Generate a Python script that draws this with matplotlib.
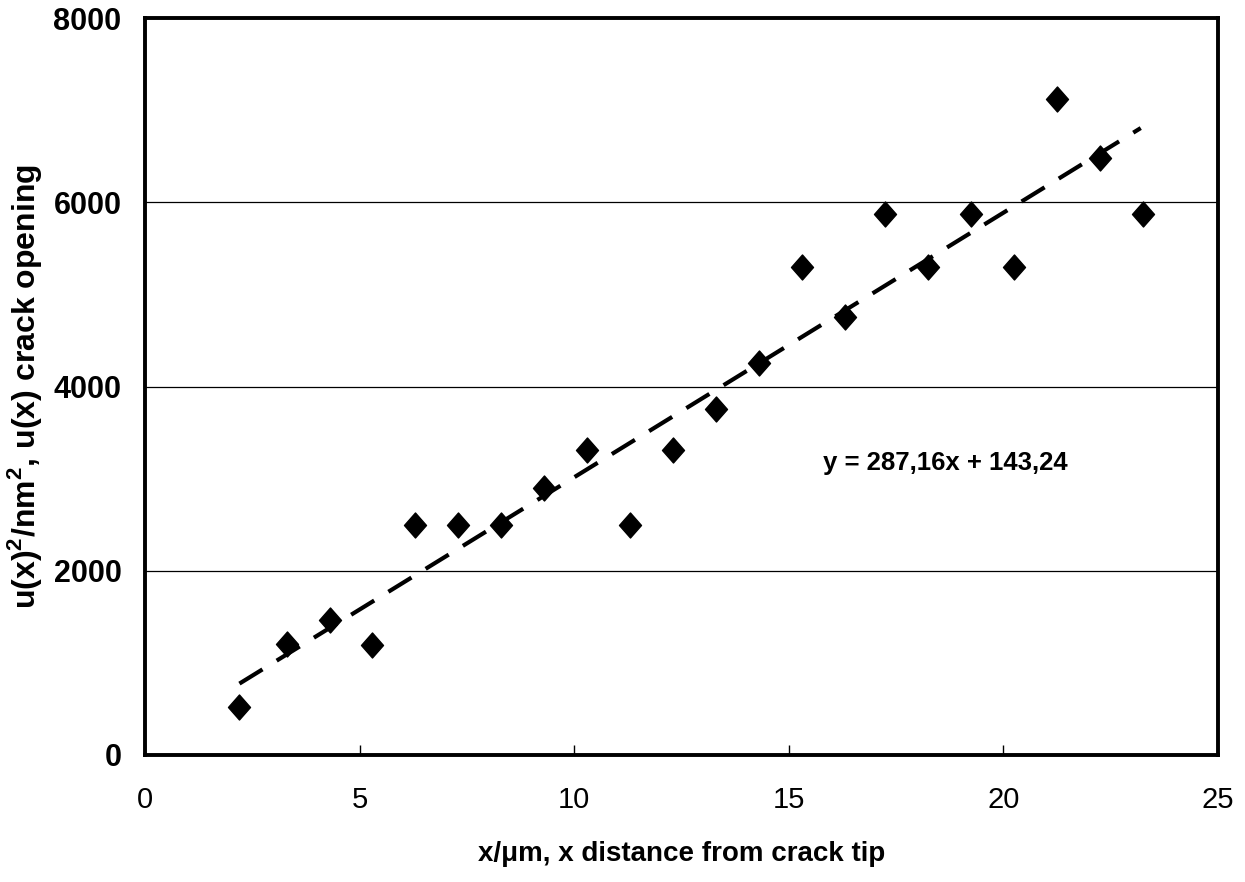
import matplotlib.pyplot as plt
from matplotlib.path import Path

# data
x_um = [2.2, 3.3, 4.3, 5.3, 6.3, 7.3, 8.3, 9.3, 10.3, 11.3, 12.3,
        13.3, 14.3, 15.3, 16.3, 17.25, 18.25, 19.25, 20.25, 21.25, 22.25, 23.25]
u2 = [520, 1205, 1460, 1195, 2497, 2497, 2497, 2899, 3312, 2497, 3312,
      3757, 4250, 5300, 4750, 5875, 5300, 5875, 5300, 7120, 6480, 5875]
slope = 287.16
intercept = 143.24
fit_x = [2.2, 23.2]
y_ticks = [0, 2000, 4000, 6000, 8000]
x_ticks = [0, 5, 10, 15, 20, 25]

plt.rcParams['font.family'] = ['Liberation Sans', 'DejaVu Sans']
plt.rcParams['mathtext.fontset'] = 'custom'
plt.rcParams['mathtext.rm'] = 'Liberation Sans'
plt.rcParams['mathtext.bf'] = 'Liberation Sans:bold'

# slightly tall diamond like the original
diamond = Path([(0, 1), (0.88, 0), (0, -1), (-0.88, 0), (0, 1)],
               [Path.MOVETO, Path.LINETO, Path.LINETO, Path.LINETO, Path.CLOSEPOLY])

fig = plt.figure(figsize=(12.45, 8.82), dpi=100)
ax = fig.add_axes([145 / 1245, 1 - 755 / 882, (1218 - 145) / 1245, (755 - 18) / 882])

ax.plot(x_um, u2, linestyle='none', marker=diamond, markersize=18, color='black', zorder=3)
fit_y = [slope * v + intercept for v in fit_x]
ax.plot(fit_x, fit_y, color='black', lw=3.0, dashes=(6.5, 4.0), zorder=4)

ax.set_xlim(0, 25)
ax.set_ylim(0, 8000)
ax.set_xticks(x_ticks)
ax.set_yticks(y_ticks)
ax.yaxis.grid(True, color='black', lw=0.9)
ax.set_axisbelow(True)

for s in ax.spines.values():
    s.set_linewidth(2.8)

ax.tick_params(axis='x', direction='in', length=7, width=1, labelsize=21, pad=22)
ax.tick_params(axis='y', length=0, labelsize=22, pad=17)
for lab in ax.get_yticklabels():
    lab.set_fontweight('bold')

ax.text(15.8, 3170, 'y = 287,16x + 143,24', fontsize=18.5, fontweight='bold', va='center')

ax.set_xlabel('x/μm, x distance from crack tip', fontsize=20, fontweight='bold')
ax.xaxis.set_label_coords(0.5, -0.117)
ax.set_ylabel(r'u(x)$^{\mathbf{2}}$/nm$^{\mathbf{2}}$, u(x) crack opening', fontsize=23, fontweight='bold')
ax.yaxis.set_label_coords(-0.094, 0.5)

fig.savefig('out.png', dpi=100)
